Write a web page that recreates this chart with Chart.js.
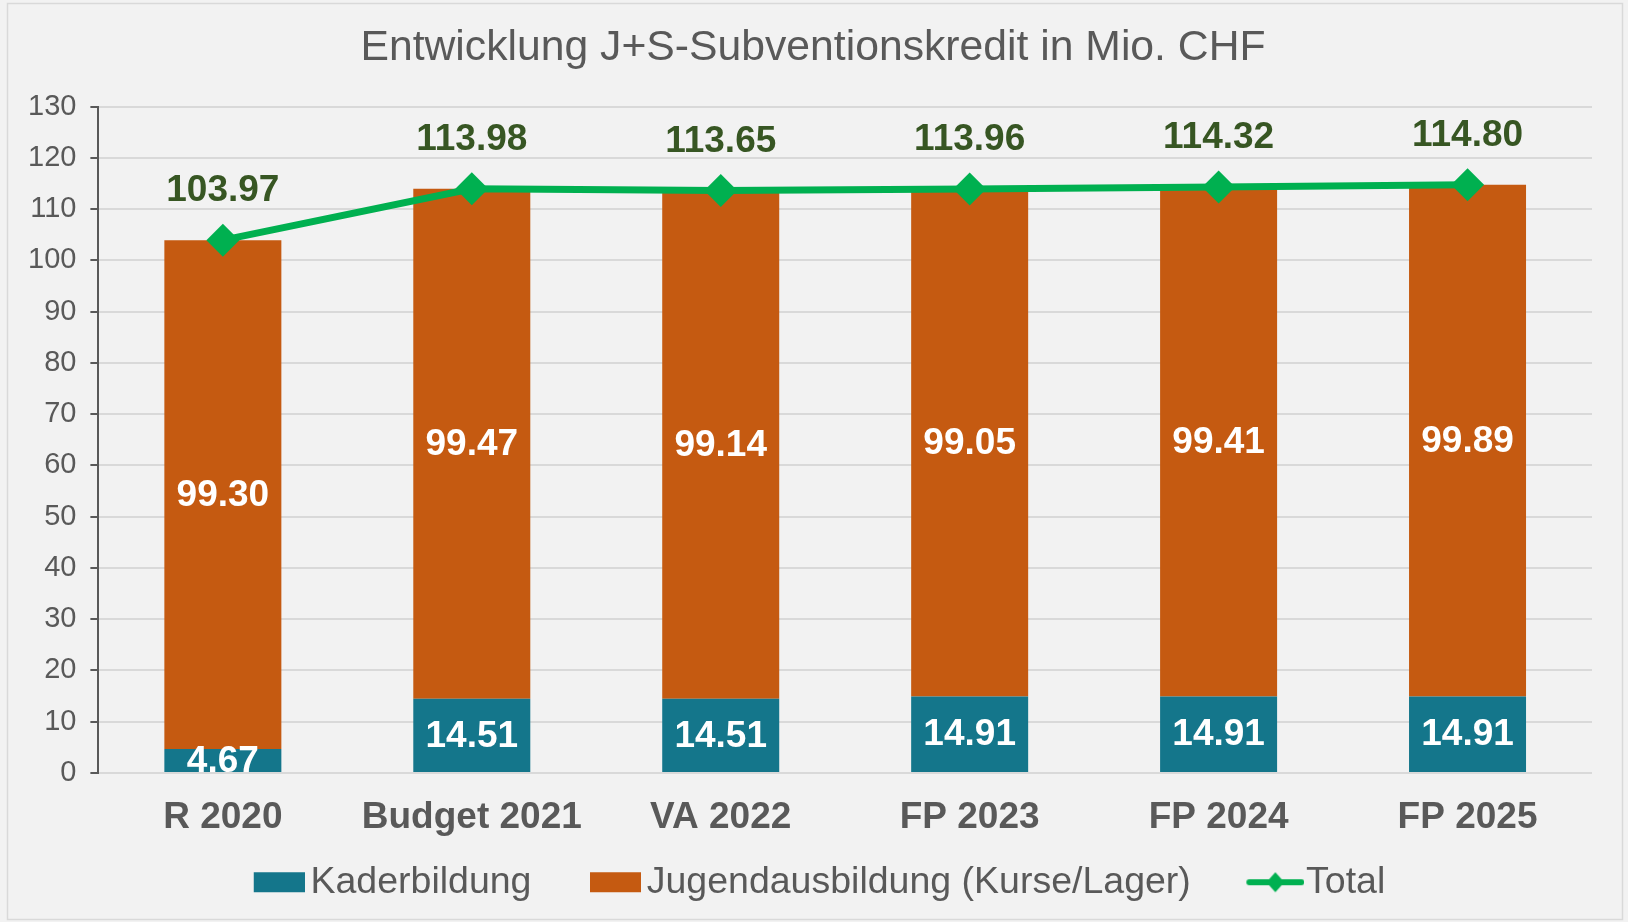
<!DOCTYPE html>
<html>
<head>
<meta charset="utf-8">
<script src="https://cdn.jsdelivr.net/npm/chart.js@4.4.1/dist/chart.umd.min.js"></script>
<style>
  html, body { margin: 0; padding: 0; background: #F2F2F2; }
  canvas { display: block; }
</style>
</head>
<body>
<canvas id="c" width="1628" height="922"></canvas>
<script>
const categories = ['R 2020', 'Budget 2021', 'VA 2022', 'FP 2023', 'FP 2024', 'FP 2025'];
const kaderbildung = [4.67, 14.51, 14.51, 14.91, 14.91, 14.91];
const jugendausbildung = [99.30, 99.47, 99.14, 99.05, 99.41, 99.89];
const total = [103.97, 113.98, 113.65, 113.96, 114.32, 114.80];
const yTicks = [0, 10, 20, 30, 40, 50, 60, 70, 80, 90, 100, 110, 120, 130];
const seriesNames = ['Kaderbildung', 'Jugendausbildung (Kurse/Lager)', 'Total'];

const FONT = '"Liberation Sans", Arial, sans-serif';
const TEAL = '#14768B';
const ORANGE = '#C55A11';
const GREEN = '#00B050';
const DARKGREEN = '#375623';
const GREY = '#595959';

const LEG_FONT = 37.5;
const LEG_PAD = 0.5;
const LEG_W = 96;
const HALF = LEG_FONT / 2;

function boxImage(color) {
  const iw = Math.round(LEG_W + 2 * (HALF - 6));
  const c = document.createElement('canvas');
  c.width = iw; c.height = 22;
  const x = c.getContext('2d');
  x.fillStyle = color;
  x.fillRect(iw - 51, 1, 51, 20);
  return c;
}
function lineImage() {
  const iw = Math.round(LEG_W + 2 * (HALF - 2));
  const c = document.createElement('canvas');
  c.width = iw; c.height = 22;
  const x = c.getContext('2d');
  const x1 = iw - 55, x2 = iw - 3;
  x.strokeStyle = GREEN; x.lineWidth = 6; x.lineCap = 'round';
  x.beginPath(); x.moveTo(x1, 11); x.lineTo(x2, 11); x.stroke();
  const cx = (x1 + x2) / 2;
  x.fillStyle = GREEN;
  x.beginPath(); x.moveTo(cx - 9, 11); x.lineTo(cx, 1); x.lineTo(cx + 9, 11); x.lineTo(cx, 21); x.closePath(); x.fill();
  return c;
}
const legendImages = [boxImage(TEAL), boxImage(ORANGE), lineImage()];

const bgPlugin = {
  id: 'bg',
  beforeDraw(chart) {
    const ctx = chart.ctx;
    ctx.save();
    ctx.fillStyle = '#F2F2F2';
    ctx.fillRect(0, 0, chart.width, chart.height);
    ctx.strokeStyle = '#D9D9D9';
    ctx.lineWidth = 1.5;
    ctx.strokeRect(7.5, 3.5, 1615, 916);
    ctx.restore();
    // centre legend row and title on the canvas like the reference
    if (chart.legend && !chart.legend._nudged) {
      chart.legend.left -= 12.5;
      chart.legend.right -= 12.5;
      chart.legend._nudged = true;
    }
    if (chart.titleBlock && !chart.titleBlock._nudged) {
      chart.titleBlock.left += 10;
      chart.titleBlock.right += 10;
      chart.titleBlock._nudged = true;
    }
  }
};

const labelPlugin = {
  id: 'valueLabels',
  afterDatasetsDraw(chart) {
    const ctx = chart.ctx;
    ctx.save();
    ctx.textAlign = 'center';
    ctx.textBaseline = 'middle';
    chart.data.datasets.forEach((ds, di) => {
      const meta = chart.getDatasetMeta(di);
      meta.data.forEach((el, i) => {
        const v = ds.data[i];
        const txt = v.toFixed(2);
        ctx.font = 'bold 37px ' + FONT;
        if (ds.type === 'line') {
          ctx.fillStyle = DARKGREEN;
          ctx.fillText(txt, el.x, el.y - 49);
        } else {
          ctx.fillStyle = '#FFFFFF';
          ctx.fillText(txt, el.x, (el.y + el.base) / 2 + 1);
        }
      });
    });
    ctx.restore();
  }
};

new Chart(document.getElementById('c'), {
  data: {
    labels: categories,
    datasets: [
      { type: 'bar', label: seriesNames[0], data: kaderbildung, backgroundColor: TEAL, stack: 'bars', order: 2,
        categoryPercentage: 0.47, barPercentage: 1 },
      { type: 'bar', label: seriesNames[1], data: jugendausbildung, backgroundColor: ORANGE, stack: 'bars', order: 2,
        categoryPercentage: 0.47, barPercentage: 1 },
      { type: 'line', label: seriesNames[2], data: total, borderColor: GREEN, backgroundColor: GREEN, borderWidth: 7,
        pointStyle: 'rectRot', pointRadius: 16.5, pointHoverRadius: 16.5, pointBorderWidth: 0, stack: 'total', order: 0, tension: 0 }
    ]
  },
  options: {
    responsive: false,
    animation: false,
    events: [],
    layout: { padding: { left: 14, right: 36, top: 0, bottom: 11 } },
    scales: {
      x: {
        stacked: true,
        grid: { display: false, drawTicks: false },
        border: { display: false },
        ticks: { color: GREY, padding: 22.8, font: { family: FONT, size: 37, weight: 'bold' } }
      },
      y: {
        stacked: true,
        min: yTicks[0],
        max: yTicks[yTicks.length - 1],
        afterBuildTicks(scale) { scale.ticks = yTicks.map(v => ({ value: v })); },
        grid: { color: '#D9D9D9', lineWidth: 2, drawTicks: true, tickLength: 8, tickColor: GREY },
        border: { display: true, color: GREY, width: 2 },
        ticks: { color: GREY, padding: 14, font: { family: FONT, size: 29 } }
      }
    },
    plugins: {
      title: {
        display: true,
        text: 'Entwicklung J+S-Subventionskredit in Mio. CHF',
        color: GREY,
        font: { family: FONT, size: 42.7, weight: 'normal' },
        padding: { top: 22.7, bottom: 32.8 }
      },
      legend: {
        position: 'bottom',
        maxHeight: 70,
        labels: {
          usePointStyle: true,
          pointStyleWidth: LEG_W,
          boxHeight: LEG_FONT,
          padding: LEG_PAD,
          color: GREY,
          font: { family: FONT, size: LEG_FONT },
          generateLabels() {
            return seriesNames.map((n, i) => ({
              text: n, pointStyle: legendImages[i], fillStyle: 'transparent', strokeStyle: 'transparent',
              lineWidth: 0, hidden: false, datasetIndex: i, fontColor: GREY
            }));
          }
        }
      },
      tooltip: { enabled: false }
    }
  },
  plugins: [bgPlugin, labelPlugin]
});
</script>
</body>
</html>
